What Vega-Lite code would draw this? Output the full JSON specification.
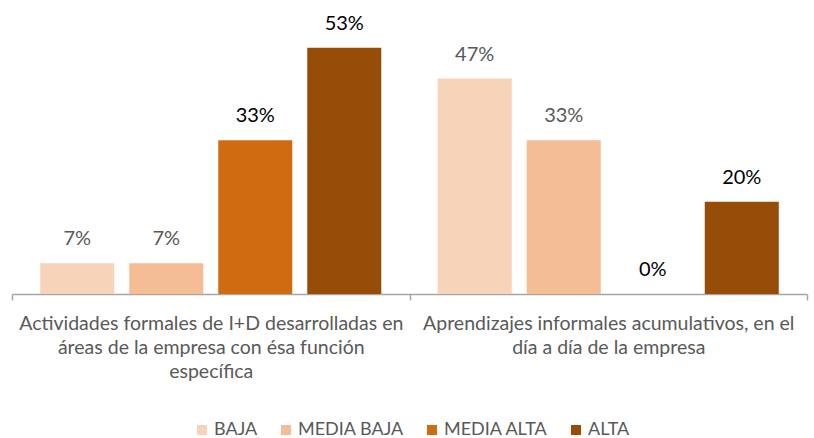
{
  "$schema": "https://vega.github.io/schema/vega-lite/v6.json",
  "width": 795,
  "height": 277,
  "autosize": "none",
  "padding": {"left": 12, "top": 17, "right": 7, "bottom": 144},
  "background": "white",
  "config": {
    "view": {"stroke": null},
    "font": "Lato"
  },
  "data": {
    "values": [
      {"grupo": "Actividades formales de I+D desarrolladas en|áreas de la empresa con ésa función|específica", "nivel": "BAJA", "valor": 0.0667},
      {"grupo": "Actividades formales de I+D desarrolladas en|áreas de la empresa con ésa función|específica", "nivel": "MEDIA BAJA", "valor": 0.0667},
      {"grupo": "Actividades formales de I+D desarrolladas en|áreas de la empresa con ésa función|específica", "nivel": "MEDIA ALTA", "valor": 0.3333},
      {"grupo": "Actividades formales de I+D desarrolladas en|áreas de la empresa con ésa función|específica", "nivel": "ALTA", "valor": 0.5333},
      {"grupo": "Aprendizajes informales acumulativos, en el|día a día de la empresa", "nivel": "BAJA", "valor": 0.4667},
      {"grupo": "Aprendizajes informales acumulativos, en el|día a día de la empresa", "nivel": "MEDIA BAJA", "valor": 0.3333},
      {"grupo": "Aprendizajes informales acumulativos, en el|día a día de la empresa", "nivel": "MEDIA ALTA", "valor": 0},
      {"grupo": "Aprendizajes informales acumulativos, en el|día a día de la empresa", "nivel": "ALTA", "valor": 0.2}
    ]
  },
  "encoding": {
    "x": {
      "field": "grupo",
      "type": "nominal",
      "sort": null,
      "scale": {"paddingInner": 0, "paddingOuter": 0},
      "axis": {
        "title": null,
        "labelAngle": 0,
        "labelExpr": "split(datum.label, '|')",
        "labelLimit": 0,
        "labelFontSize": 19.5,
        "labelColor": "#595959",
        "labelLineHeight": 24,
        "labelPadding": 14,
        "labelFont": "Lato",
        "domainColor": "#A6A6A6",
        "domainWidth": 1.5,
        "tickColor": "#A6A6A6",
        "tickWidth": 1.5,
        "tickSize": 6,
        "tickBand": "extent"
      }
    },
    "xOffset": {
      "field": "nivel",
      "type": "nominal",
      "sort": ["BAJA", "MEDIA BAJA", "MEDIA ALTA", "ALTA"],
      "scale": {"paddingInner": 0.1685, "paddingOuter": 0.317}
    },
    "y": {
      "field": "valor",
      "type": "quantitative",
      "scale": {"domain": [0, 0.6]},
      "axis": null
    }
  },
  "layer": [
    {
      "mark": {"type": "bar"},
      "encoding": {
        "color": {
          "field": "nivel",
          "type": "nominal",
          "sort": ["BAJA", "MEDIA BAJA", "MEDIA ALTA", "ALTA"],
          "scale": {
            "domain": ["BAJA", "MEDIA BAJA", "MEDIA ALTA", "ALTA"],
            "range": ["#F7D3BA", "#F4BD95", "#CF6C11", "#964D08"]
          },
          "legend": {
            "title": null,
            "orient": "none",
            "legendX": 181,
            "legendY": 404,
            "padding": 0,
            "direction": "horizontal",
            "symbolType": "square",
            "symbolSize": 100,
            "symbolStrokeWidth": 0,
            "labelFontSize": 18,
            "labelColor": "#595959",
            "labelFont": "Lato",
            "labelOffset": 3,
            "columnPadding": 19
          }
        }
      }
    },
    {
      "mark": {"type": "text", "baseline": "alphabetic", "dy": -18, "fontSize": 20, "font": "Lato"},
      "encoding": {
        "text": {"field": "valor", "type": "quantitative", "format": ".0%"},
        "color": {
          "condition": {"test": "datum.nivel == 'BAJA' || datum.nivel == 'MEDIA BAJA'", "value": "#595959"},
          "value": "#000000"
        }
      }
    }
  ]
}
